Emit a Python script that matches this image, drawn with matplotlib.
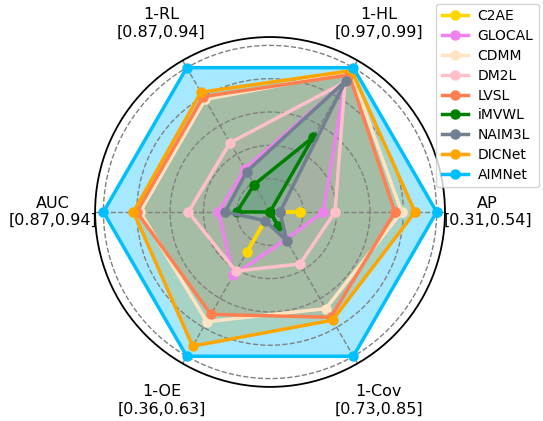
import numpy as np
import matplotlib.pyplot as plt

# axes, counter-clockwise from the right
metrics = ["AP", "1-HL", "1-RL", "AUC", "1-OE", "1-Cov"]
ranges = ["[0.31,0.54]", "[0.97,0.99]", "[0.87,0.94]",
          "[0.87,0.94]", "[0.36,0.63]", "[0.73,0.85]"]

methods = ["C2AE", "GLOCAL", "CDMM", "DM2L", "LVSL",
           "iMVWL", "NAIM3L", "DICNet", "AIMNet"]
colors = ["gold", "violet", "bisque", "pink", "coral",
          "green", "slategray", "orange", "deepskyblue"]

# normalised scores (AP, 1-HL, 1-RL, AUC, 1-OE, 1-Cov)
c2ae = [0.18, 0.0, 0.0, 0.0, 0.28, 0.0]
glocal = [0.32, 0.90, 0.30, 0.31, 0.44, 0.19]
cdmm = [0.79, 0.97, 0.78, 0.78, 0.76, 0.67]
dm2l = [0.39, 0.90, 0.48, 0.49, 0.41, 0.36]
lvsl = [0.75, 0.95, 0.80, 0.80, 0.71, 0.73]
imvwl = [0.0, 0.52, 0.19, 0.20, 0.0, 0.10]
naim3l = [0.06, 0.91, 0.28, 0.27, 0.06, 0.20]
dicnet = [0.87, 0.98, 0.83, 0.82, 0.93, 0.75]
aimnet = [1.0, 1.0, 1.0, 1.0, 1.0, 1.0]
scores = [c2ae, glocal, cdmm, dm2l, lvsl, imvwl, naim3l, dicnet, aimnet]

angles = np.linspace(0, 2 * np.pi, len(metrics), endpoint=False)
ang_closed = np.concatenate([angles, angles[:1]])

fig = plt.figure(figsize=(5.43, 4.21), dpi=100)
ax = fig.add_axes([0.175, 0.081, 0.6446, 0.831], polar=True)

for name, col, vals in zip(methods, colors, scores):
    v = np.concatenate([vals, vals[:1]])
    ax.plot(ang_closed, v, color=col, linewidth=2.5, marker="o",
            markersize=6.5, label=name)
    ax.fill(ang_closed, v, color=col, alpha=0.35)

ax.set_ylim(0, 1.05)
ax.set_yticks([0.2, 0.4, 0.6, 0.8, 1.0])
ax.set_yticklabels([])
ax.set_xticks(angles)
ax.set_xticklabels([])
ax.grid(True, color="gray", linestyle="--", linewidth=1)
ax.spines["polar"].set_linewidth(1.3)

for a, m, r in zip(angles, metrics, ranges):
    ax.text(a, 1.305, m + "\n" + r, ha="center", va="center",
            fontsize=11.5, clip_on=False)

fig.legend(loc="upper right", bbox_to_anchor=(0.998, 0.998), fontsize=10,
           handlelength=1.9, borderpad=0.4, labelspacing=0.42,
           handletextpad=0.7, borderaxespad=0.2)

fig.savefig("out.png", dpi=100)
